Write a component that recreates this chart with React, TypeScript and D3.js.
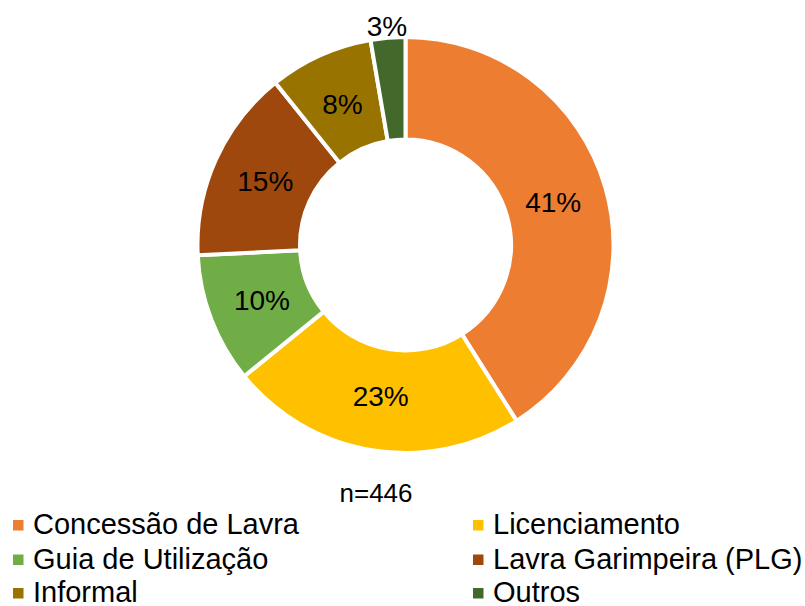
import React from "react";
import * as d3 from "d3";

const categories = [
  "Concessão de Lavra",
  "Licenciamento",
  "Guia de Utilização",
  "Lavra Garimpeira (PLG)",
  "Informal",
  "Outros",
];
const counts = [183, 103, 45, 67, 36, 12];
const labels = ["41%", "23%", "10%", "15%", "8%", "3%"];
const colors = ["#ED7D31", "#FFC000", "#70AD47", "#9E480E", "#997300", "#43682B"];
const totalLabel = "n=446";

const W = 805;
const H = 606;
const cx = 405.5;
const cy = 245;
const outerR = 208;
const innerR = 105.5;
const FONT = "'Liberation Sans', Arial, sans-serif";

export default function App() {
  const pie = d3
    .pie<number>()
    .sort(null)
    .value((d) => d)
    .startAngle(0)
    .endAngle(2 * Math.PI);
  const arcs = pie(counts);
  const arcGen = d3.arc<d3.PieArcDatum<number>>().innerRadius(innerR).outerRadius(outerR);
  const labelR = (innerR + outerR) / 2 - 3;
  const outsideR = 219;

  // legend layout: two columns, three rows
  const colX = [13, 473];
  const rowY = [534, 568.5, 602];

  return (
    <svg
      width={W}
      height={H}
      style={{ position: "absolute", left: 0, top: 0, background: "#fff" }}
      fontFamily={FONT}
    >
      <g transform={`translate(${cx},${cy})`}>
        {arcs.map((a, i) => (
          <path key={i} d={arcGen(a) || ""} fill={colors[i]} stroke="#fff" strokeWidth={4} />
        ))}
        {arcs.map((a, i) => {
          const mid = (a.startAngle + a.endAngle) / 2;
          const outside = i === arcs.length - 1;
          const r = outside ? outsideR : labelR;
          const x = r * Math.sin(mid);
          const y = -r * Math.cos(mid);
          return (
            <text
              key={i}
              x={x}
              y={y}
              textAnchor="middle"
              dominantBaseline="central"
              fontSize={28}
              fill="#000"
            >
              {labels[i]}
            </text>
          );
        })}
      </g>
      <text x={376} y={501.5} textAnchor="middle" fontSize={26} fill="#000">
        {totalLabel}
      </text>
      {categories.map((c, i) => {
        const col = i % 2;
        const row = Math.floor(i / 2);
        const x = colX[col];
        const y = rowY[row];
        return (
          <g key={c}>
            <rect x={x} y={y - 14} width={10.5} height={10.5} fill={colors[i]} />
            <text x={x + 20} y={y} fontSize={29} fill="#000">
              {c}
            </text>
          </g>
        );
      })}
    </svg>
  );
}
